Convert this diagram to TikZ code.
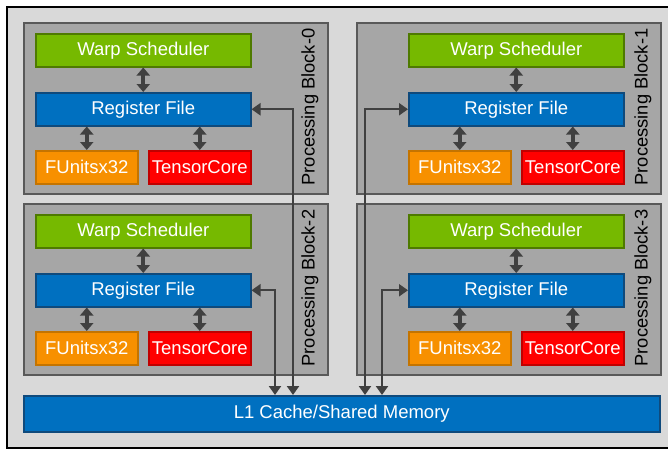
\documentclass[tikz,border=0pt]{standalone}
\usepackage{fontspec}
\setmainfont{Liberation Sans}
\usetikzlibrary{arrows.meta}

\definecolor{framebg}{HTML}{D9D9D9}
\definecolor{blockbg}{HTML}{A6A6A6}
\definecolor{blockline}{HTML}{595959}
\definecolor{wsfill}{HTML}{76B900}
\definecolor{wsline}{HTML}{4E7A00}
\definecolor{rffill}{HTML}{0070C0}
\definecolor{rfline}{HTML}{0F4A7C}
\definecolor{fufill}{HTML}{F79000}
\definecolor{fuline}{HTML}{C47400}
\definecolor{tcfill}{HTML}{FF0000}
\definecolor{tcline}{HTML}{C00000}
\definecolor{arrowgray}{HTML}{404040}

\tikzset{
  unitbox/.style={draw, line width=1.5pt, text=white, inner sep=0pt,
    font=\fontsize{18.5}{18.5}\selectfont, anchor=north west},
  wsbox/.style={unitbox, fill=wsfill, draw=wsline, minimum width=215pt, minimum height=33pt},
  rfbox/.style={unitbox, fill=rffill, draw=rfline, minimum width=215pt, minimum height=33pt},
  fubox/.style={unitbox, fill=fufill, draw=fuline, minimum width=102pt, minimum height=33pt},
  tcbox/.style={unitbox, fill=tcfill, draw=tcline, minimum width=102pt, minimum height=33pt},
  blockbox/.style={draw=blockline, fill=blockbg, line width=1.5pt, anchor=north west,
    minimum width=304pt, minimum height=171pt, inner sep=0pt},
  blocklabel/.style={rotate=90, font=\fontsize{18.3}{18.3}\selectfont, text=black, inner sep=0pt},
  dualarrow/.style={draw=arrowgray, line width=3.8pt,
    {Triangle[width=13pt,length=8pt]}-{Triangle[width=13pt,length=8pt]}},
  linkarrow/.style={draw=arrowgray, line width=2.2pt,
    {Triangle[width=12pt,length=9pt]}-{Triangle[width=12pt,length=9pt]}},
}

% one processing block: #1 suffix, #2 x, #3 y, #4 inner left offset, #5 label
\newcommand\procblock[5]{%
  \node[blockbox] (pb#1) at (#2,#3) {};
  \node[wsbox] (ws#1) at (#2+#4,#3+11) {Warp Scheduler};
  \node[rfbox] (rf#1) at (#2+#4,#3+70) {Register File};
  \node[fubox] (fu#1) at (#2+#4,#3+128) {FUnitsx32};
  \node[tcbox] (tc#1) at (#2+#4+113,#3+128) {TensorCore};
  \node[blocklabel] (lb#1) at (#2+287,#3+85) {#5};
  \draw[dualarrow] (ws#1.south) -- (rf#1.north);
  \draw[dualarrow] (rf#1.south -| fu#1.north) -- (fu#1.north);
  \draw[dualarrow] (rf#1.south -| tc#1.north) -- (tc#1.north);
}

\begin{document}
\begin{tikzpicture}[x=1pt,y=-1pt]
  \useasboundingbox (0,0) rectangle (668,451);
  \fill[white] (0,0) rectangle (668,451);
  \draw[black, line width=2pt, fill=framebg] (7,7) rectangle (672,448);

  \procblock{0}{23}{22}{12}{Processing Block-0}
  \procblock{1}{356}{22}{52}{Processing Block-1}
  \procblock{2}{23}{203}{12}{Processing Block-2}
  \procblock{3}{356}{203}{52}{Processing Block-3}

  \node[unitbox, fill=rffill, draw=rfline, minimum width=636pt, minimum height=36pt]
    (l1) at (23,395) {L1 Cache/Shared Memory};

  % risers from the register files down to the L1 cache
  \coordinate (c0) at (293,0);
  \coordinate (c2) at (275,0);
  \coordinate (c1) at (365,0);
  \coordinate (c3) at (382,0);
  \draw[linkarrow] (rf0.east) -| (c0 |- l1.north);
  \draw[linkarrow] (rf2.east) -| (c2 |- l1.north);
  \draw[linkarrow] (rf1.west) -| (c1 |- l1.north);
  \draw[linkarrow] (rf3.west) -| (c3 |- l1.north);
\end{tikzpicture}
\end{document}
